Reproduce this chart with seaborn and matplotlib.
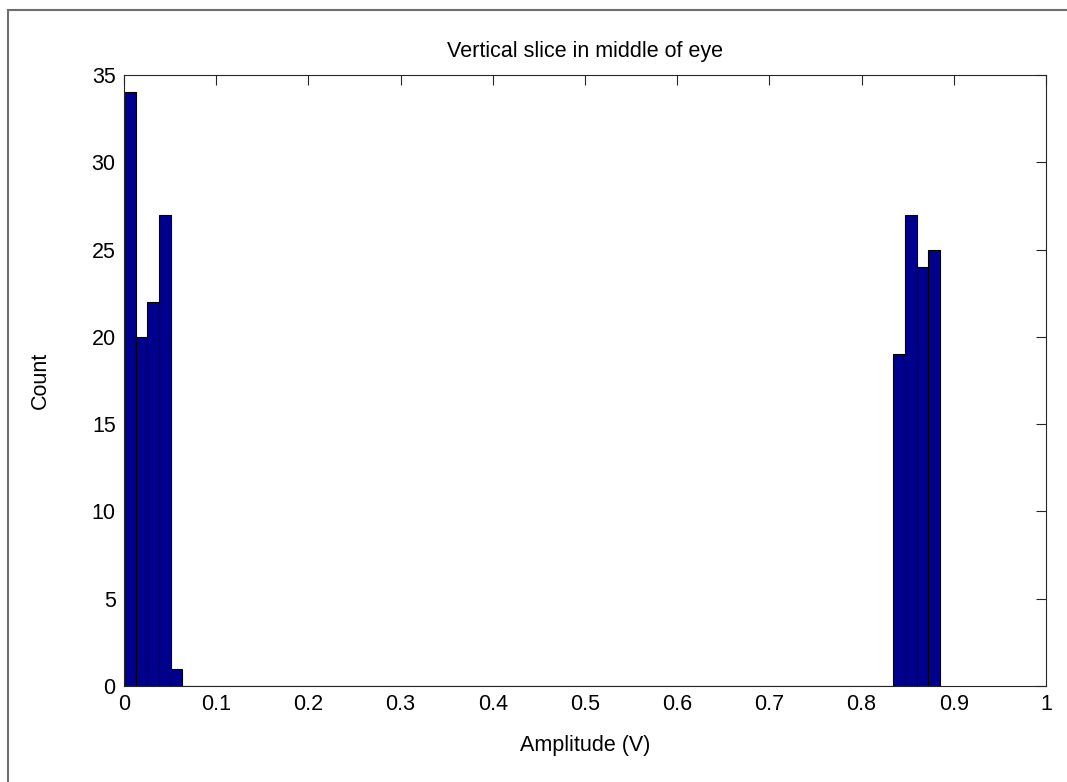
import numpy as np
import pandas as pd
import matplotlib
matplotlib.use("Agg")
import matplotlib.pyplot as plt
import seaborn as sns
from matplotlib.patches import Rectangle

# histogram counts (70 bins between 0 and ~0.885 V)
bin_lo = 0.0
bin_hi = 0.885
n_bins = 70
bin_index = [0, 1, 2, 3, 4, 66, 67, 68, 69]
counts = [34, 20, 22, 27, 1, 19, 27, 24, 25]

x_ticks = [0, 0.1, 0.2, 0.3, 0.4, 0.5, 0.6, 0.7, 0.8, 0.9, 1]
x_tick_labels = ["0", "0.1", "0.2", "0.3", "0.4", "0.5", "0.6", "0.7", "0.8", "0.9", "1"]
y_ticks = [0, 5, 10, 15, 20, 25, 30, 35]

edges = np.linspace(bin_lo, bin_hi, n_bins + 1)
centers = (edges[:-1] + edges[1:]) / 2
df = pd.DataFrame({"amp": centers[bin_index], "count": counts})

sns.set_theme(style="white")
plt.rcParams['font.family'] = ['Liberation Sans', 'DejaVu Sans']
plt.rcParams['text.color'] = 'black'
plt.rcParams['axes.labelcolor'] = 'black'

fig = plt.figure(figsize=(10.67, 7.82), dpi=100)
ax = fig.add_axes([124 / 1067, 1 - 686 / 782, 922 / 1067, 611 / 782])

sns.histplot(data=df, x="amp", weights="count", bins=n_bins,
             binrange=(bin_lo, bin_hi), ax=ax,
             color="#00008F", alpha=1, edgecolor="black", linewidth=0.8)

ax.set_xlim(0, 1)
ax.set_ylim(0, 35)
ax.set_xticks(x_ticks)
ax.set_xticklabels(x_tick_labels)
ax.set_yticks(y_ticks)
ax.tick_params(direction="in", length=7, width=0.8, top=True, right=True,
               labelsize=15.5, colors="#262626", labelcolor="black", pad=6)
for s in ax.spines.values():
    s.set_color("#262626")
    s.set_linewidth(0.8)

fs = 15.5
ax.set_title("Vertical slice in middle of eye", fontsize=fs, pad=0,
             y=(686 - 52) / 611, va="center")
ax.set_xlabel("Amplitude (V)", fontsize=fs, va="center")
ax.xaxis.set_label_coords(0.5, (686 - 746) / 611)
ax.set_ylabel("Count", fontsize=fs, va="center")
ax.yaxis.set_label_coords((40 - 124) / 922, 0.5)

# outer figure frame
fig.patches.append(Rectangle((8 / 1067, -0.05), 1.2, 1 - 10 / 782 + 0.05,
                             transform=fig.transFigure, fill=False,
                             edgecolor="#6e6e6e", linewidth=1.5))

fig.savefig("out.png", dpi=100)
